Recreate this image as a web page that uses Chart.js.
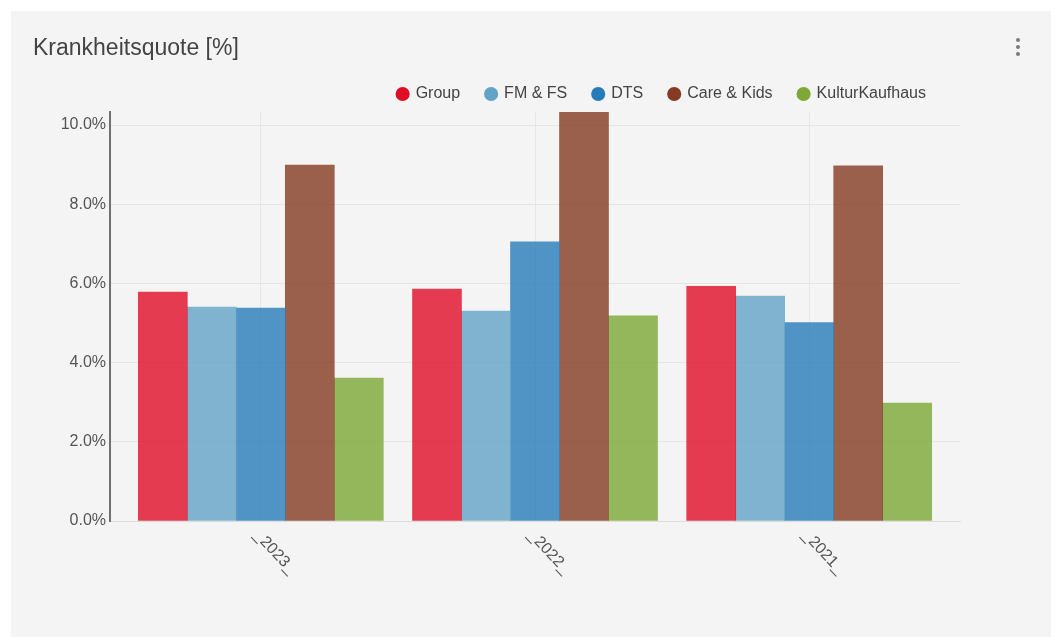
<!DOCTYPE html>
<html>
<head>
<meta charset="utf-8">
<title>Krankheitsquote [%]</title>
<script src="https://cdn.jsdelivr.net/npm/chart.js@4.4.1/dist/chart.umd.min.js"></script>
<style>
  html, body { margin: 0; padding: 0; background: #ffffff; }
  #card { position: absolute; left: 11px; top: 11px; width: 1040px; height: 626px; background: #f4f4f4; }
  #chart { position: absolute; left: 0; top: 0; }
  .menu { position: absolute; left: 1005px; top: 27px; width: 4px; }
  .menu span { display: block; width: 4px; height: 4px; border-radius: 50%; background: #7a7a7a; margin-bottom: 3px; }
</style>
</head>
<body>
<div id="card">
  <canvas id="chart" width="1040" height="626"></canvas>
  <div class="menu"><span></span><span></span><span></span></div>
</div>
<script>
// Sick-leave rate per business unit and year, in percent
const years = ['_2023_', '_2022_', '_2021_'];
const group = [5.78, 5.86, 5.93];
const fmFs = [5.40, 5.30, 5.68];
const dts = [5.38, 7.05, 5.01];
const careKids = [8.99, 10.33, 8.97];
const kulturKaufhaus = [3.61, 5.18, 2.98];

const seriesNames = ['Group', 'FM & FS', 'DTS', 'Care & Kids', 'KulturKaufhaus'];
const seriesValues = [group, fmFs, dts, careKids, kulturKaufhaus];
const seriesColors = ['#e00d27', '#62a3c6', '#267cb8', '#833b22', '#7da836'];

const FONT = "'Liberation Sans', Arial, sans-serif";

function withAlpha(hex, a) {
  const n = parseInt(hex.slice(1), 16);
  return 'rgba(' + ((n >> 16) & 255) + ',' + ((n >> 8) & 255) + ',' + (n & 255) + ',' + a + ')';
}

const yMax = Math.max(...seriesValues.flat());

// Pull the legend row in a little from the right edge of the plot
const legendInset = {
  id: 'legendInset',
  afterLayout(chart) {
    if (chart.legend) chart.legend.right -= 8;
  }
};

new Chart(document.getElementById('chart'), {
  type: 'bar',
  data: {
    datasets: seriesNames.map((name, k) => ({
      label: name,
      data: seriesValues[k].map((v, i) => ({ x: i, y: v })),
      backgroundColor: withAlpha(seriesColors[k], 0.8),
      borderWidth: 0,
      barThickness: 49
    }))
  },
  plugins: [legendInset],
  options: {
    responsive: false,
    animation: false,
    layout: { padding: { left: 22, right: 91, top: 0, bottom: 46 } },
    plugins: {
      title: {
        display: true,
        text: 'Krankheitsquote [%]',
        align: 'start',
        color: '#444444',
        font: { family: FONT, size: 23, weight: 'normal', lineHeight: 1 },
        padding: { top: 26, bottom: 0 }
      },
      legend: {
        position: 'top',
        align: 'end',
        labels: {
          usePointStyle: true,
          pointStyle: 'circle',
          boxWidth: 10,
          boxHeight: 10,
          padding: 26,
          color: '#444444',
          font: { family: FONT, size: 16 },
          generateLabels: (chart) => chart.data.datasets.map((ds, k) => ({
            text: ds.label,
            fillStyle: seriesColors[k],
            strokeStyle: seriesColors[k],
            lineWidth: 0,
            pointStyle: 'circle',
            fontColor: '#444444',
            hidden: !chart.isDatasetVisible(k),
            datasetIndex: k
          }))
        }
      },
      tooltip: { enabled: false }
    },
    scales: {
      x: {
        type: 'linear',
        min: -0.55,
        max: 2.55,
        offset: false,
        grid: { color: '#e6e6e6', drawTicks: false, offset: false },
        border: { color: '#dddddd' },
        afterBuildTicks: (scale) => { scale.ticks = years.map((_, i) => ({ value: i })); },
        afterFit: (scale) => { scale.height = 70; },
        ticks: {
          autoSkip: false,
          minRotation: -47,
          maxRotation: -47,
          padding: 44,
          labelOffset: 32,
          color: '#555555',
          font: { family: FONT, size: 16 },
          callback: (v) => years[v]
        }
      },
      y: {
        min: 0,
        max: yMax,
        grid: { color: '#e6e6e6', drawTicks: false },
        border: { color: '#707070', width: 2 },
        afterFit: (scale) => { scale.width = 77; },
        ticks: {
          stepSize: 2,
          includeBounds: false,
          padding: 4,
          color: '#555555',
          font: { family: FONT, size: 16 },
          callback: (v) => v.toFixed(1) + '%'
        }
      }
    }
  }
});
</script>
</body>
</html>
